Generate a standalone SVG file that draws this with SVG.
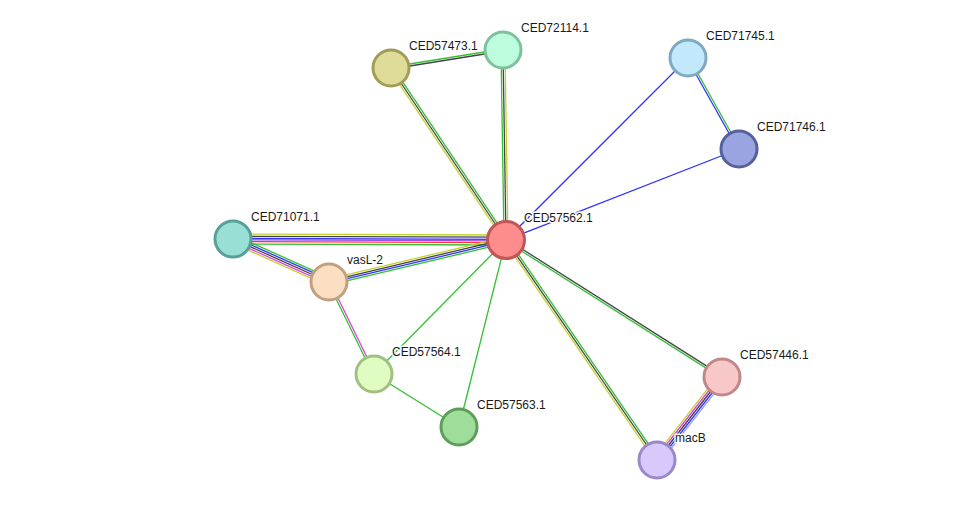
<svg xmlns="http://www.w3.org/2000/svg" width="976" height="505" viewBox="0 0 976 505">
<style>
.e line{stroke-width:1.3;fill:none}
.yg{stroke:#c2d230}.bk{stroke:#444}.bl{stroke:#3333ff}.gr{stroke:#33c033}.mg{stroke:#e040e0}.rd{stroke:#ff3333}.lb{stroke:#9999ff}
.n circle{stroke-width:3}
.n text{font-family:"Liberation Sans",Arial,sans-serif;font-size:12px;fill:#1a1a1a;stroke:#fff;stroke-width:3px;paint-order:stroke;stroke-linejoin:round}
</style>
<rect width="976" height="505" fill="#fff"/>
<g id="connectors" class="e">
<line class="yg" x1="233" y1="234" x2="506" y2="235"/>
<line class="bk" x1="233" y1="236.2" x2="506" y2="237.2"/>
<line class="bl" x1="233" y1="238.4" x2="506" y2="239.4"/>
<line class="mg" x1="233" y1="239.8" x2="506" y2="240.8" style="stroke:#a050e0"/>
<line class="rd" x1="233" y1="241.6" x2="506" y2="242.6"/>
<line class="gr" x1="233" y1="244" x2="506" y2="245"/>

<line class="yg" x1="505.31" y1="237.08" x2="328.31" y2="279.08"/>
<line class="bk" x1="505.77" y1="239.03" x2="328.77" y2="281.03"/>
<line class="bl" x1="506.23" y1="240.97" x2="329.23" y2="282.97"/>
<line class="gr" x1="506.69" y1="242.92" x2="329.69" y2="284.92"/>

<line class="gr" x1="234.64" y1="235.35" x2="330.64" y2="278.35"/>
<line class="bl" x1="233.82" y1="237.17" x2="329.82" y2="280.17"/>
<line class="bk" x1="233" y1="239" x2="329" y2="282"/>
<line class="mg" x1="232.18" y1="240.83" x2="328.18" y2="283.83"/>
<line class="yg" x1="231.36" y1="242.65" x2="327.36" y2="285.65"/>

<line class="mg" x1="329.9" y1="281.56" x2="374.9" y2="373.56"/>
<line class="gr" x1="328.1" y1="282.44" x2="373.1" y2="374.44"/>

<line class="gr" x1="506" y1="240" x2="374" y2="374"/>
<line class="gr" x1="374" y1="374" x2="459" y2="427"/>
<line class="gr" x1="506" y1="240" x2="459" y2="427"/>

<line class="gr" x1="504" y1="240" x2="501" y2="50"/>
<line class="bk" x1="506" y1="240" x2="503" y2="50"/>
<line class="yg" x1="508" y1="240" x2="505" y2="50"/>

<line class="yg" x1="504.34" y1="241.11" x2="389.34" y2="69.11"/>
<line class="bk" x1="506" y1="240" x2="391" y2="68"/>
<line class="gr" x1="507.66" y1="238.89" x2="392.66" y2="66.89"/>

<line class="gr" x1="390.84" y1="67.01" x2="502.84" y2="49.01"/>
<line class="bk" x1="391.16" y1="68.99" x2="503.16" y2="50.99"/>

<line class="bl" x1="506" y1="240" x2="688" y2="58"/>
<line class="bl" x1="506" y1="240" x2="739" y2="149"/>

<line class="gr" x1="688.87" y1="57.51" x2="739.87" y2="148.51"/>
<line class="bl" x1="687.13" y1="58.49" x2="738.13" y2="149.49"/>

<line class="bk" x1="506.54" y1="239.16" x2="722.54" y2="376.16"/>
<line class="gr" x1="505.46" y1="240.84" x2="721.46" y2="377.84"/>

<line class="yg" x1="504.35" y1="241.13" x2="655.35" y2="461.13"/>
<line class="bk" x1="506" y1="240" x2="657" y2="460"/>
<line class="gr" x1="507.65" y1="238.87" x2="658.65" y2="458.87"/>

<line class="yg" x1="718.85" y1="374.53" x2="653.85" y2="457.53"/>
<line class="mg" x1="720.43" y1="375.77" x2="655.43" y2="458.77"/>
<line class="bk" x1="722" y1="377" x2="657" y2="460"/>
<line class="bl" x1="723.57" y1="378.23" x2="658.57" y2="461.23"/>
<line class="lb" x1="725.15" y1="379.47" x2="660.15" y2="462.47"/>
</g>

<g id="CED57562.1" class="n"><circle cx="506" cy="240" r="18.5" fill="#fd8d8d" stroke="#c05656"/><text x="524" y="222">CED57562.1</text></g>
<g id="CED72114.1" class="n"><circle cx="503" cy="50" r="18" fill="#bdfcdc" stroke="#80c09e"/><text x="521" y="32">CED72114.1</text></g>
<g id="CED57473.1" class="n"><circle cx="391" cy="68" r="18" fill="#dfdc9a" stroke="#a09e55"/><text x="409" y="50">CED57473.1</text></g>
<g id="CED71745.1" class="n"><circle cx="688" cy="58" r="18" fill="#c2e8fc" stroke="#80a8c0"/><text x="706" y="40">CED71745.1</text></g>
<g id="CED71746.1" class="n"><circle cx="739" cy="149" r="18" fill="#9aa4e0" stroke="#56609c"/><text x="757" y="131">CED71746.1</text></g>
<g id="CED71071.1" class="n"><circle cx="233" cy="239" r="18" fill="#9adfd6" stroke="#55a098"/><text x="251" y="221">CED71071.1</text></g>
<g id="vasL-2" class="n"><circle cx="329" cy="282" r="18" fill="#fcdfc2" stroke="#c0a080"/><text x="347" y="264">vasL-2</text></g>
<g id="CED57564.1" class="n"><circle cx="374" cy="374" r="18" fill="#e0fcc2" stroke="#a0c080"/><text x="392" y="356">CED57564.1</text></g>
<g id="CED57563.1" class="n"><circle cx="459" cy="427" r="18" fill="#9ede9a" stroke="#5e9e5a"/><text x="477" y="409">CED57563.1</text></g>
<g id="CED57446.1" class="n"><circle cx="722" cy="377" r="18" fill="#f8c8c8" stroke="#c08888"/><text x="740" y="359">CED57446.1</text></g>
<g id="macB" class="n"><circle cx="657" cy="460" r="18" fill="#d8c8fc" stroke="#9a88c8"/><text x="675" y="442">macB</text></g>
</svg>
